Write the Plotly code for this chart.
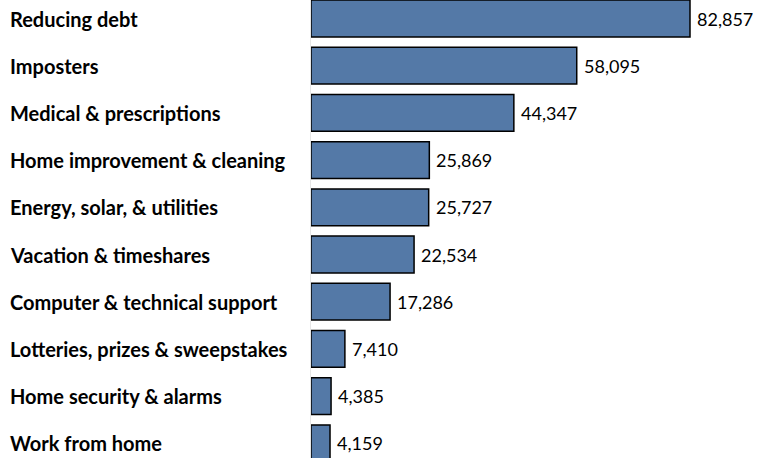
import plotly.graph_objects as go

categories = [
    "Reducing debt",
    "Imposters",
    "Medical & prescriptions",
    "Home improvement & cleaning",
    "Energy, solar, & utilities",
    "Vacation & timeshares",
    "Computer & technical support",
    "Lotteries, prizes & sweepstakes",
    "Home security & alarms",
    "Work from home",
]
values = [82857, 58095, 44347, 25869, 25727, 22534, 17286, 7410, 4385, 4159]

W, H = 760, 458
left = 311
plot_w = W - left
px_per_unit = (690 - 311) / 82857
xmax = plot_w / px_per_unit

pitch = 47.2
center0 = 18.5
r0 = -center0 / pitch
r1 = r0 + H / pitch

idx = list(range(len(categories)))

fig = go.Figure()
fig.add_trace(go.Bar(
    x=values,
    y=idx,
    orientation="h",
    width=0.78,
    marker=dict(color="#5479A7", line=dict(color="#000000", width=1.5)),
    hoverinfo="skip",
))

for i, c, v in zip(idx, categories, values):
    fig.add_annotation(
        x=(8 - left) / plot_w, xref="paper",
        y=i, yref="y",
        text=f"<b>{c}</b>",
        showarrow=False, xanchor="left", yanchor="middle",
        font=dict(family="Lato", size=20, color="#000000"),
    )
    fig.add_annotation(
        x=v, xref="x", y=i, yref="y",
        text=f"{v:,}", xshift=5,
        showarrow=False, xanchor="left", yanchor="middle",
        font=dict(family="Lato", size=18, color="#000000"),
    )

fig.update_layout(
    width=W, height=H,
    margin=dict(l=left, r=0, t=0, b=0),
    paper_bgcolor="white", plot_bgcolor="white",
    showlegend=False,
    xaxis=dict(range=[0, xmax], visible=False, fixedrange=True),
    yaxis=dict(range=[r1, r0], showticklabels=False, showgrid=False,
               zeroline=False, showline=True, linecolor="#e6e6e6", linewidth=1,
               ticks="", fixedrange=True),
)

fig.write_html(
    "out.html",
    config={"displayModeBar": False},
    post_script="document.body.style.margin='0';document.body.style.overflow='hidden';",
)
